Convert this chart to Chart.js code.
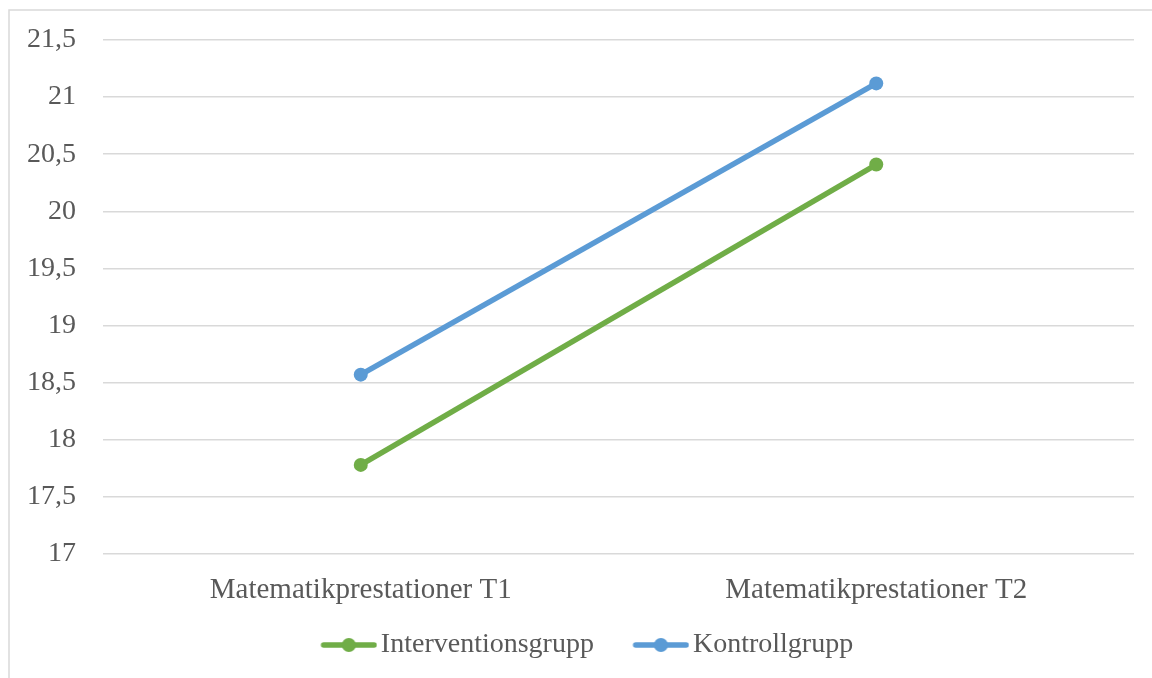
<!DOCTYPE html>
<html>
<head>
<meta charset="utf-8">
<script src="https://cdn.jsdelivr.net/npm/chart.js@4/dist/chart.umd.min.js"></script>
<style>
  html, body { margin: 0; padding: 0; background: #ffffff; }
  #wrap { width: 1152px; height: 678px; position: relative; }
</style>
</head>
<body>
<div id="wrap"><canvas id="chart"></canvas></div>
<script>
// Measurement occasions
const categories = ['Matematikprestationer T1', 'Matematikprestationer T2'];

// Mean scores per group
const interventionValues = [17.78, 20.41];
const kontrollValues = [18.57, 21.12];

// Series names
const seriesNames = ['Interventionsgrupp', 'Kontrollgrupp'];

// Value axis range
const yMin = 17;
const yMax = 21.5;
const yStep = 0.5;

const GREEN = '#70ad47';
const BLUE = '#5b9bd5';
const TEXT = '#595959';
const GRID = '#d9d9d9';
const FONT = "'Liberation Serif', 'Times New Roman', serif";

// Legend marker: a short line with a dot in its middle
function legendMarker(color) {
  const W = 96, H = 18, a = 39.5, L = 56;
  const c = document.createElement('canvas');
  c.width = W; c.height = H;
  const g = c.getContext('2d');
  g.strokeStyle = color;
  g.lineWidth = 5.5;
  g.lineCap = 'round';
  g.beginPath();
  g.moveTo(a + 2.75, H / 2);
  g.lineTo(a + L - 2.75, H / 2);
  g.stroke();
  g.fillStyle = color;
  g.beginPath();
  g.arc(a + L / 2, H / 2, 7, 0, Math.PI * 2);
  g.fill();
  return c;
}

// Thin frame along the left and top edges; legend nudged slightly right
const framePlugin = {
  id: 'frame',
  afterLayout(chart) {
    if (chart.legend) {
      chart.legend.left += 5.5;
      chart.legend.right += 5.5;
    }
  },
  beforeDraw(chart) {
    const ctx = chart.ctx;
    ctx.save();
    ctx.strokeStyle = GRID;
    ctx.lineWidth = 1.5;
    ctx.beginPath();
    ctx.moveTo(9, chart.height);
    ctx.lineTo(9, 10);
    ctx.lineTo(chart.width, 10);
    ctx.stroke();
    ctx.restore();
  }
};

const markers = [legendMarker(GREEN), legendMarker(BLUE)];

new Chart(document.getElementById('chart'), {
  type: 'line',
  data: {
    labels: categories,
    datasets: [
      {
        label: seriesNames[0],
        data: interventionValues,
        borderColor: GREEN,
        backgroundColor: GREEN,
        borderWidth: 5.5,
        pointRadius: 7,
        pointBorderWidth: 0,
        pointHoverRadius: 7,
        fill: false,
        tension: 0
      },
      {
        label: seriesNames[1],
        data: kontrollValues,
        borderColor: BLUE,
        backgroundColor: BLUE,
        borderWidth: 5.5,
        pointRadius: 7,
        pointBorderWidth: 0,
        pointHoverRadius: 7,
        fill: false,
        tension: 0
      }
    ]
  },
  options: {
    responsive: true,
    maintainAspectRatio: false,
    animation: false,
    layout: { padding: { left: 0, right: 18, top: 40, bottom: 9 } },
    plugins: {
      tooltip: { enabled: false },
      legend: {
        position: 'bottom',
        labels: {
          usePointStyle: true,
          pointStyleWidth: 75,
          padding: 10,
          color: TEXT,
          font: { family: FONT, size: 28 },
          generateLabels(chart) {
            return chart.data.datasets.map((ds, i) => ({
              text: ds.label,
              fillStyle: ds.borderColor,
              strokeStyle: ds.borderColor,
              fontColor: TEXT,
              lineWidth: 0,
              pointStyle: markers[i],
              hidden: false,
              datasetIndex: i
            }));
          }
        }
      }
    },
    scales: {
      x: {
        offset: true,
        grid: { display: false, drawTicks: false },
        border: { display: false },
        ticks: { color: TEXT, font: { family: FONT, size: 29 }, padding: 19, maxRotation: 0 },
        afterFit(scale) { scale.height = 67; }
      },
      y: {
        min: yMin,
        max: yMax,
        grid: { color: GRID, lineWidth: 1.5, drawTicks: false },
        border: { display: false },
        ticks: {
          stepSize: yStep,
          color: TEXT,
          padding: 27,
          font: { family: FONT, size: 28 },
          callback: (v) => String(v).replace('.', ',')
        },
        afterFit(scale) {
          scale.width = 103;
          scale.paddingTop = 0;
          scale.paddingBottom = 0;
        }
      }
    }
  },
  plugins: [framePlugin]
});
</script>
</body>
</html>
